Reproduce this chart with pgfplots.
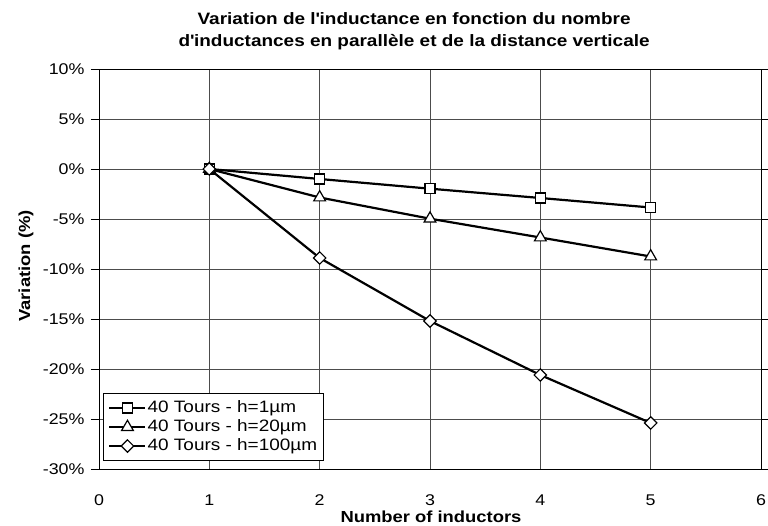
\documentclass[border=0pt]{standalone}
\usepackage{pgfplots}
\pgfplotsset{compat=1.18}
\usepackage{fontspec}
\setmainfont[FakeStretch=1.15]{Liberation Sans}

\pgfplotstableread{
n   h1     h20    h100
1   0.0    0.0    0.0
2  -1.0   -2.85  -8.9
3  -1.97  -4.97 -15.2
4  -2.9   -6.85 -20.6
5  -3.85  -8.75 -25.4
}\variation

\begin{document}
\begin{tikzpicture}[x=1pt,y=1pt]
\useasboundingbox (0,0) rectangle (768,526);
\begin{axis}[
    at={(99pt,57pt)}, anchor=south west,
    scale only axis, width=662pt, height=400pt,
    xmin=0, xmax=6, ymin=-30, ymax=10,
    xtick={0,1,...,6}, ytick={-30,-25,...,10},
    yticklabel={\pgfmathprintnumber{\tick}\%},
    /pgf/number format/assume math mode=true,
    ticklabel style={font=\fontsize{15.5}{17}\selectfont},
    yticklabel style={xshift=-3pt},
    grid=major, grid style={black!70, line width=0.8pt},
    axis line style={black, line width=0.9pt},
    xtick style={draw=none},
    ytick style={black, line width=0.8pt},
    tick align=outside, major tick length=8pt,
    xticklabel style={yshift=-14pt},
    title={\bfseries Variation de l\textquotesingle inductance en fonction du nombre\\\bfseries d\textquotesingle inductances en parallèle et de la distance verticale},
    title style={font=\fontsize{16.5}{22.5}\selectfont, align=center,
        at={(axis description cs:0.476,1.04)}, anchor=base},
    xlabel={\bfseries Number of inductors},
    xlabel style={font=\fontsize{16}{18}\selectfont,
        at={(axis description cs:0.5015,-0.135)}, anchor=base},
    ylabel={\bfseries Variation (\%)},
    ylabel style={font=\fontsize{16}{18}\selectfont,
        at={(axis description cs:-0.104,0.5075)}, anchor=base, rotate=0},
    legend style={at={(axis description cs:0.006,0.02)}, anchor=south west,
        draw=black, line width=0.8pt, inner sep=5pt,
        font=\fontsize{16.5}{18}\selectfont,
        nodes={inner sep=1pt, text height=12.5pt, text depth=4.5pt}},
    legend cell align=left,
    legend image code/.code={%
        \draw[mark repeat=2, mark phase=2] plot coordinates {(0pt,0pt) (18pt,0pt) (36pt,0pt)};},
    every axis plot/.append style={black, line width=2.2pt,
        mark options={solid, fill=white, line width=1.2pt}},
]
\addplot[mark=square*, mark size=5pt] table[x=n, y=h1] {\variation};
\addlegendentry{40 Tours - h=1µm}
\addplot[mark=triangle*, mark size=6.8pt] table[x=n, y=h20] {\variation};
\addlegendentry{40 Tours - h=20µm}
\addplot[mark=square*, mark size=4.4pt,
    mark options={solid, fill=white, line width=1.2pt, rotate=45}] table[x=n, y=h100] {\variation};
\addlegendentry{40 Tours - h=100µm}
\end{axis}
\end{tikzpicture}
\end{document}
